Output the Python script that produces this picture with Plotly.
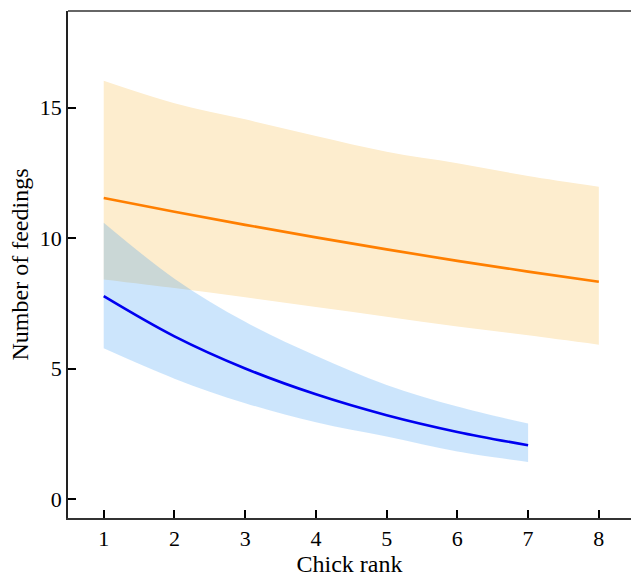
import plotly.graph_objects as go

# Chick rank positions for each group
rank_orange = [1, 2, 3, 4, 5, 6, 7, 8]
rank_blue = [1, 2, 3, 4, 5, 6, 7]

# Predicted number of feedings with confidence bands
mean_orange = [11.54, 11.01, 10.51, 10.03, 9.57, 9.13, 8.72, 8.33]
upper_orange = [16.03, 15.17, 14.55, 13.91, 13.31, 12.87, 12.38, 11.97]
lower_orange = [8.42, 8.09, 7.74, 7.36, 6.99, 6.62, 6.28, 5.92]

mean_blue = [7.78, 6.24, 5.01, 4.02, 3.22, 2.58, 2.07]
upper_blue = [10.59, 8.45, 6.80, 5.50, 4.38, 3.55, 2.90]
lower_blue = [5.78, 4.62, 3.68, 2.95, 2.40, 1.83, 1.43]

x_ticks = [1, 2, 3, 4, 5, 6, 7, 8]
y_ticks = [0, 5, 10, 15]

FONT = "Liberation Serif, Times New Roman, serif"

fig = go.Figure()

# Orange confidence band (opaque)
fig.add_trace(go.Scatter(x=rank_orange, y=lower_orange, mode="lines",
                         line=dict(width=0, shape="spline"), hoverinfo="skip",
                         showlegend=False))
fig.add_trace(go.Scatter(x=rank_orange, y=upper_orange, mode="lines",
                         line=dict(width=0, shape="spline"), fill="tonexty",
                         fillcolor="rgb(253,237,206)", hoverinfo="skip",
                         showlegend=False))

# Blue confidence band (translucent, drawn over the orange band)
fig.add_trace(go.Scatter(x=rank_blue, y=lower_blue, mode="lines",
                         line=dict(width=0, shape="spline"), hoverinfo="skip",
                         showlegend=False))
fig.add_trace(go.Scatter(x=rank_blue, y=upper_blue, mode="lines",
                         line=dict(width=0, shape="spline"), fill="tonexty",
                         fillcolor="rgba(27,139,241,0.224)", hoverinfo="skip",
                         showlegend=False))

# Mean curves
fig.add_trace(go.Scatter(x=rank_orange, y=mean_orange, mode="lines",
                         line=dict(color="rgb(255,127,0)", width=2.6, shape="spline"),
                         showlegend=False))
fig.add_trace(go.Scatter(x=rank_blue, y=mean_blue, mode="lines",
                         line=dict(color="rgb(0,0,240)", width=2.6, shape="spline"),
                         showlegend=False))

fig.update_layout(
    width=631, height=577,
    margin=dict(l=68, r=0, t=11, b=59),
    paper_bgcolor="white", plot_bgcolor="white",
    font=dict(family=FONT, color="black"),
    xaxis=dict(
        range=[0.495, 8.455], tickvals=x_ticks, ticktext=[str(v) for v in x_ticks],
        showgrid=False, zeroline=False, showline=True, linecolor="#333",
        linewidth=1.6, ticks="inside", ticklen=8, tickwidth=2, tickcolor="black",
        tickfont=dict(family=FONT, size=22),
        title=dict(text="Chick rank", font=dict(family=FONT, size=24), standoff=10),
    ),
    yaxis=dict(
        range=[-0.717, 18.70], tickvals=y_ticks, ticktext=[str(v) for v in y_ticks],
        showgrid=False, zeroline=False, showline=True, linecolor="#222",
        linewidth=1.6, ticks="inside", ticklen=8, tickwidth=2, tickcolor="black",
        tickfont=dict(family=FONT, size=22),
        title=dict(text="Number of feedings", font=dict(family=FONT, size=24), standoff=4),
    ),
    shapes=[dict(type="line", xref="paper", yref="paper", x0=0, x1=1, y0=1, y1=1,
                 line=dict(color="#333", width=1.6))],
)

fig.write_html("out.html")
